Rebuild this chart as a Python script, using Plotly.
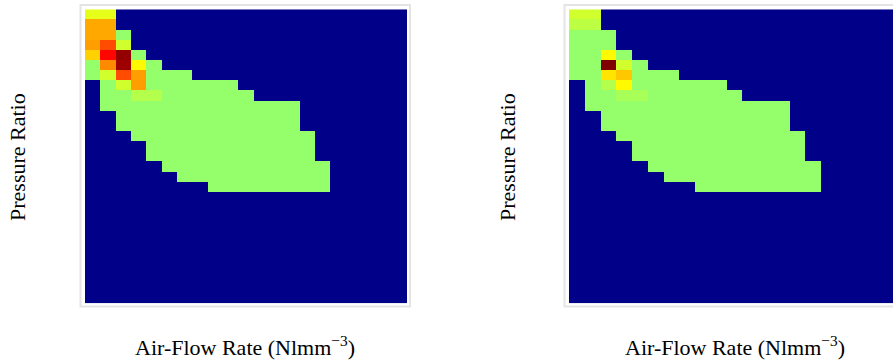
import plotly.graph_objects as go

# ---- data -------------------------------------------------------------
n_rows = 29
n_cols = 21
background_value = 0.0
region_value = 0.52

# occupied region per row (first col, last col), rows counted from the top
row_first_col = [0, 0, 0, 0, 0, 0, 0, 1, 1, 1, 2, 2, 3, 4, 4, 5, 6, 8]
row_last_col = [1, 1, 2, 2, 3, 4, 6, 9, 10, 13, 13, 13, 14, 14, 14, 15, 15, 15]

# hot cells (row, col, value) - left map
left_hot_rows = [0, 0, 1, 1, 2, 2, 3, 3, 3, 4, 4, 4, 5, 5, 5, 6, 6, 6, 7, 7, 8, 8]
left_hot_cols = [0, 1, 0, 1, 0, 1, 0, 1, 2, 0, 1, 2, 1, 2, 3, 1, 2, 3, 2, 3, 3, 4]
left_hot_vals = [0.60, 0.60, 0.71, 0.71, 0.71, 0.71, 0.72, 0.80, 0.58,
                 0.67, 0.87, 0.98, 0.74, 0.97, 0.63, 0.58, 0.80, 0.72,
                 0.58, 0.72, 0.55, 0.55]

# hot cells (row, col, value) - right map
right_hot_rows = [0, 0, 1, 1, 4, 5, 5, 6, 6, 7, 7, 8, 8]
right_hot_cols = [0, 1, 0, 1, 2, 2, 3, 2, 3, 2, 3, 3, 4]
right_hot_vals = [0.58, 0.58, 0.56, 0.56, 0.63, 1.00, 0.58, 0.65, 0.68,
                  0.55, 0.63, 0.54, 0.54]

x_title = "Air-Flow Rate (Nlmm<sup>−3</sup>)"
y_title = "Pressure Ratio"


def build(hot_rows, hot_cols, hot_vals):
    z = [[background_value] * n_cols for _ in range(n_rows)]
    for r, (a, b) in enumerate(zip(row_first_col, row_last_col)):
        for c in range(a, b + 1):
            z[r][c] = region_value
    for r, c, v in zip(hot_rows, hot_cols, hot_vals):
        z[r][c] = v
    return z


jet = [[0, "rgb(0,0,136)"], [0.125, "rgb(0,0,255)"], [0.375, "rgb(0,255,255)"],
       [0.625, "rgb(255,255,0)"], [0.875, "rgb(255,0,0)"], [1, "rgb(128,0,0)"]]

W, H = 893, 360
fig = go.Figure()
fig.add_trace(go.Heatmap(z=build(left_hot_rows, left_hot_cols, left_hot_vals),
                         colorscale=jet, zmin=0, zmax=1, showscale=False,
                         xaxis="x", yaxis="y", hoverinfo="skip"))
fig.add_trace(go.Heatmap(z=build(right_hot_rows, right_hot_cols, right_hot_vals),
                         colorscale=jet, zmin=0, zmax=1, showscale=False,
                         xaxis="x2", yaxis="y2", hoverinfo="skip"))

ydom = [(H - 303.3) / H, (H - 9.3) / H]
common = dict(showgrid=False, zeroline=False, showticklabels=False, ticks="",
              showline=False)
fig.update_layout(
    width=W, height=H,
    margin=dict(l=0, r=0, t=0, b=0),
    paper_bgcolor="white", plot_bgcolor="white",
    xaxis=dict(domain=[85 / W, 407 / W], range=[-0.5, n_cols - 0.5], anchor="y", **common),
    yaxis=dict(domain=ydom, range=[n_rows - 0.5, -0.5], anchor="x", **common),
    xaxis2=dict(domain=[569 / W, 1.0], range=[-0.5, (W - 569) / 15.77 - 0.5], anchor="y2", **common),
    yaxis2=dict(domain=ydom, range=[n_rows - 0.5, -0.5], anchor="x2", **common),
    showlegend=False,
)

font = dict(family="Liberation Serif, Times New Roman, serif", size=22, color="black")
for cx in (245, 735):
    fig.add_annotation(text=x_title, x=cx / W, y=(H - 346) / H, xref="paper", yref="paper",
                       showarrow=False, font=font, xanchor="center", yanchor="middle")
for cx in (17, 507):
    fig.add_annotation(text=y_title, x=cx / W, y=(H - 157) / H, xref="paper", yref="paper",
                       showarrow=False, font=font, textangle=-90,
                       xanchor="center", yanchor="middle")

# light frames around each image
for x0, x1 in ((80.5, 410), (564.5, 900)):
    fig.add_shape(type="rect", xref="paper", yref="paper",
                  x0=x0 / W, x1=x1 / W, y0=(H - 306.5) / H, y1=(H - 5) / H,
                  line=dict(color="#e4e4e4", width=2), layer="below")

fig.write_html("out.html", config={"displayModeBar": False},
               post_script="document.body.style.margin='0';document.body.style.overflow='hidden';")
